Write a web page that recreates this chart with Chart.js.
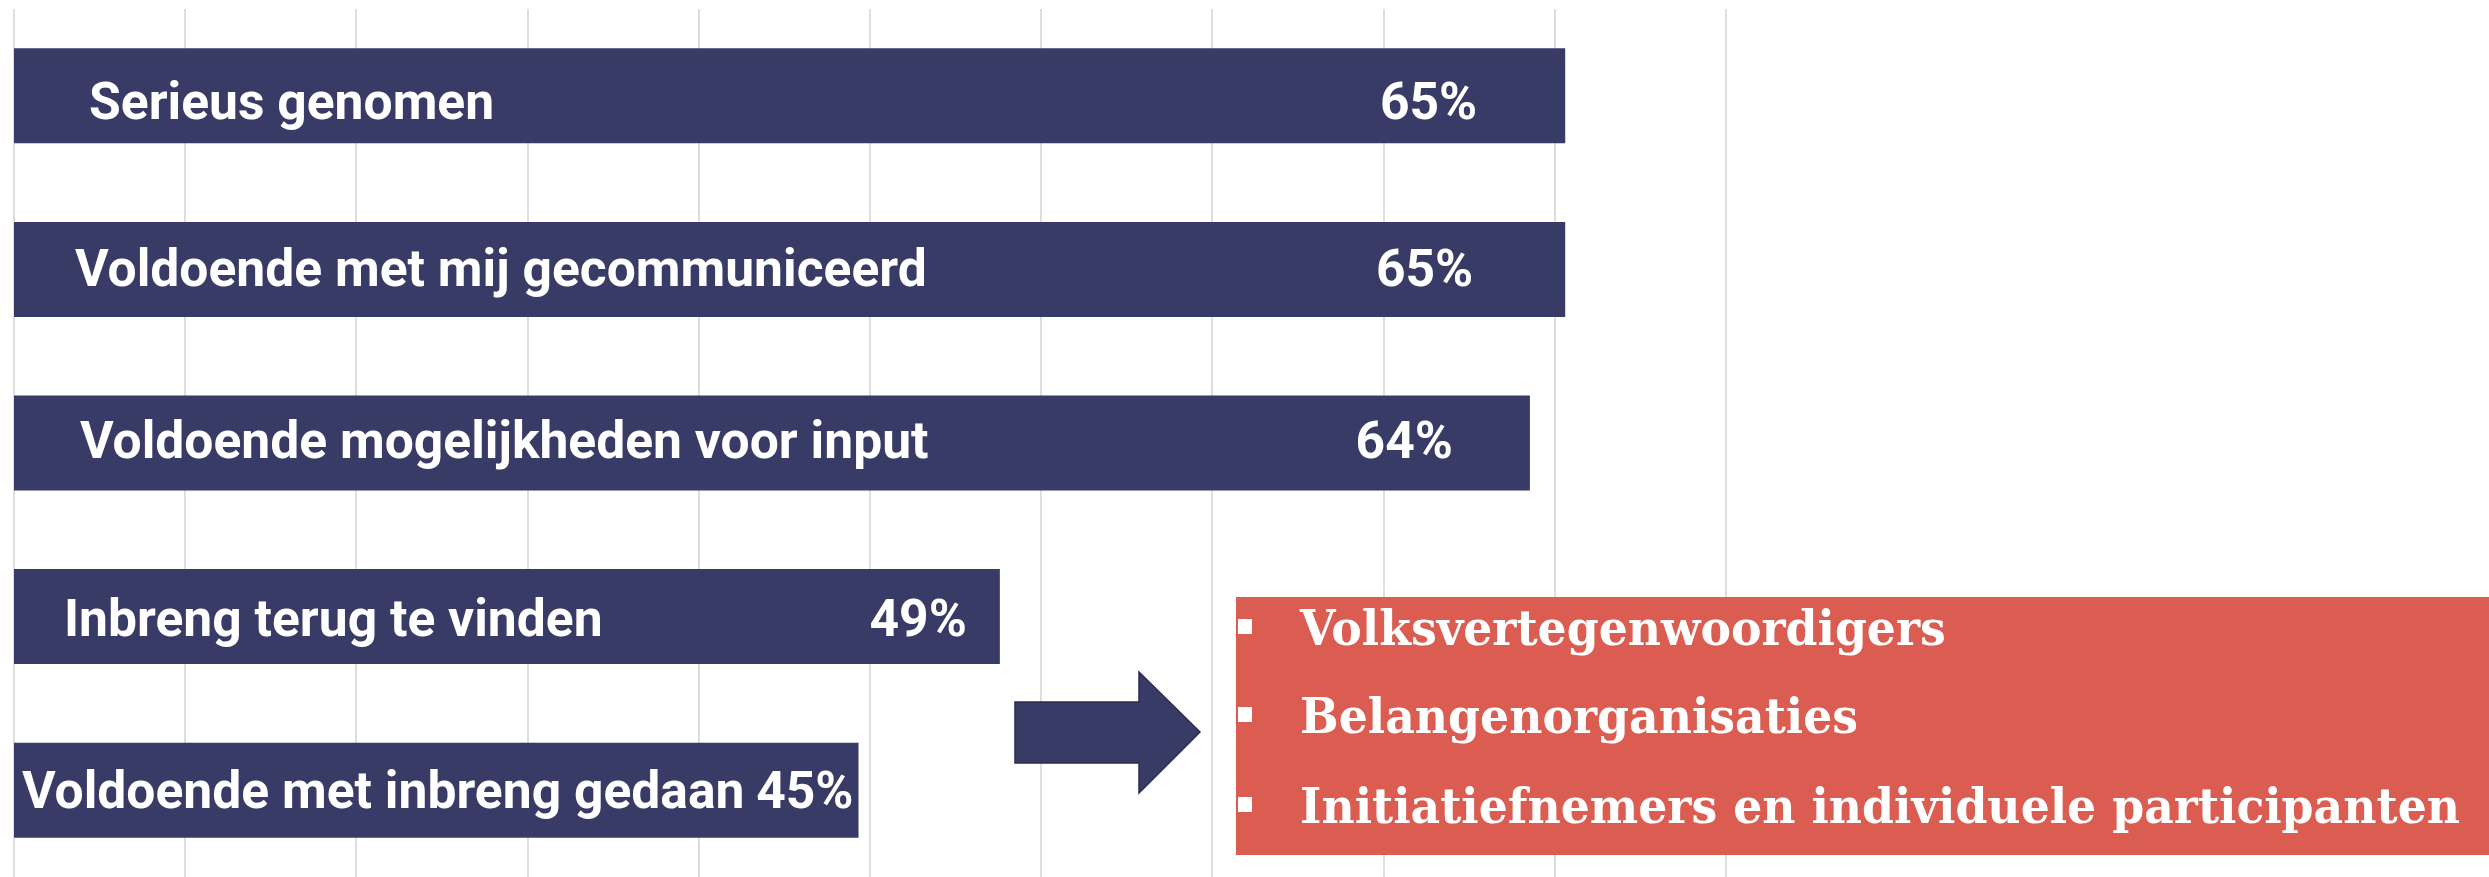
<!DOCTYPE html>
<html lang="nl">
<head>
<meta charset="utf-8">
<title>Inbreng en communicatie</title>
<script src="https://cdn.jsdelivr.net/npm/chart.js@4"></script>
<style>
  html, body { margin: 0; padding: 0; background: #fff; }
  #wrap { width: 2489px; height: 877px; position: relative; }
</style>
</head>
<body>
<div id="wrap"><canvas id="myChart"></canvas></div>
<script>
// data
const statements = ["Serieus genomen", "Voldoende met mij gecommuniceerd", "Voldoende mogelijkheden voor input", "Inbreng terug te vinden", "Voldoende met inbreng gedaan"];
const shares = [65, 65, 64, 49, 45];
const shareLabels = ["65%", "65%", "64%", "49%", "45%"];
const groups = ["Volksvertegenwoordigers", "Belangenorganisaties", "Initiatiefnemers en individuele participanten"];

// the slide cut the axis off, it does not start at 0
const axisMin = 21.1;
const axisMax = 69.55;

const navy = '#393b67';
const coral = '#db5c50';

// labels were placed by hand on the slide, so nudge them per bar
const nameIndent = [75, 61, 66, 50, 8];
const pctGap = [88, 92, 77, 33, 5];
const textDrop = [23, 17, 15, 19, 18];

const barLabels = {
    id: 'barLabels',
    afterDatasetsDraw(chart) {
        const ctx = chart.ctx;
        const meta = chart.getDatasetMeta(0);
        const left = chart.chartArea.left;
        ctx.save();
        ctx.fillStyle = '#fff';
        ctx.font = 'bold 51.6px Roboto';
        ctx.textBaseline = 'alphabetic';
        meta.data.forEach((bar, i) => {
            const y = bar.y + textDrop[i];
            ctx.textAlign = 'left';
            ctx.fillText(statements[i], left + nameIndent[i], y);
            ctx.textAlign = 'right';
            ctx.fillText(shareLabels[i], bar.x - pctGap[i], y);
        });
        ctx.restore();
    }
};

// arrow + red box with the groups
const callout = {
    id: 'callout',
    afterDraw(chart) {
        const ctx = chart.ctx;
        ctx.save();
        ctx.beginPath();
        ctx.moveTo(1015, 702);
        ctx.lineTo(1139, 702);
        ctx.lineTo(1139, 672);
        ctx.lineTo(1200, 732);
        ctx.lineTo(1139, 793);
        ctx.lineTo(1139, 763);
        ctx.lineTo(1015, 763);
        ctx.closePath();
        ctx.fillStyle = navy;
        ctx.fill();
        ctx.strokeStyle = '#2a2c50';
        ctx.lineWidth = 1.5;
        ctx.stroke();

        ctx.fillStyle = coral;
        ctx.fillRect(1236, 597, chart.width - 1236, 258);

        ctx.fillStyle = '#fff';
        ctx.font = 'bold 49px "DejaVu Serif"';
        ctx.textAlign = 'left';
        ctx.textBaseline = 'alphabetic';
        const widest = Math.max(...groups.map(g => ctx.measureText(g).width));
        const squeeze = Math.min(1, 1160 / widest);
        const baselines = [645, 733, 823];
        groups.forEach((g, i) => {
            ctx.fillRect(1238, baselines[i] - 26, 14, 15);
            ctx.save();
            ctx.translate(1300, baselines[i]);
            ctx.scale(squeeze, 1);
            ctx.fillText(g, 0, 0);
            ctx.restore();
        });
        ctx.restore();
    }
};

const config = {
    type: 'bar',
    data: {
        labels: statements,
        datasets: [{
            data: shares,
            backgroundColor: navy,
            barPercentage: 0.547,
            categoryPercentage: 1
        }]
    },
    options: {
        indexAxis: 'y',
        responsive: true,
        maintainAspectRatio: false,
        animation: false,
        layout: { padding: { left: 14, right: 763, top: 9, bottom: 0 } },
        plugins: {
            legend: { display: false },
            tooltip: { enabled: false }
        },
        scales: {
            x: {
                min: axisMin,
                max: axisMax,
                ticks: { display: false, count: 11 },
                grid: { color: '#dedede', lineWidth: 2, drawTicks: false },
                border: { display: false }
            },
            y: { display: false }
        }
    },
    plugins: [barLabels, callout]
};

const myChart = new Chart(document.getElementById('myChart'), config);
</script>
</body>
</html>
